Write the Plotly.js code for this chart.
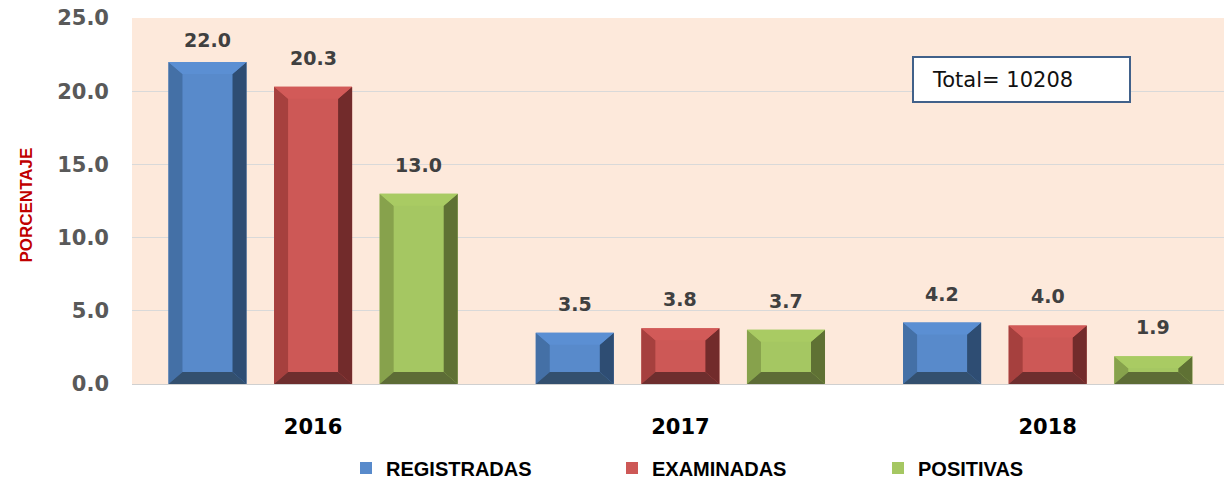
<!DOCTYPE html>
<html><head><meta charset="utf-8">
<script src="https://cdn.plot.ly/plotly-3.0.1.min.js"></script>
<style>body{margin:0;background:#fff}#chart{width:1224px;height:480px}</style>
</head><body><div id="chart"></div>
<script>
// ---- data ----
const years = ['2016', '2017', '2018'];
const seriesNames = ['REGISTRADAS', 'EXAMINADAS', 'POSITIVAS'];
const registradas = [22.0, 3.5, 4.2];
const examinadas = [20.3, 3.8, 4.0];
const positivas = [13.0, 3.7, 1.9];
const yTicks = [0, 5, 10, 15, 20, 25];
const yTickText = ['0.0', '5.0', '10.0', '15.0', '20.0', '25.0'];
const totalText = 'Total= 10208';

// ---- styling ----
const seriesValues = [registradas, examinadas, positivas];
const palette = [
  {front:'#588acb', top:'#5b8fd3', left:'#4470a6', right:'#2e4d73', bottom:'#33506f'},
  {front:'#cd5856', top:'#d25a58', left:'#a6403e', right:'#722b2b', bottom:'#6e2e2e'},
  {front:'#a5c762', top:'#a9cb63', left:'#87a24c', right:'#5f7134', bottom:'#5d6c36'}
];
const offsets = [-0.2875, 0, 0.2875];
const barW = 0.2125;
const xRange = [-0.493, 2.48];
const yRange = [0, 25];
const marginT = 18, plotWpx = 1092, plotHpx = 366;
const pxPerX = plotWpx / (xRange[1] - xRange[0]);
const pxPerY = plotHpx / (yRange[1] - yRange[0]);
const bx = 14 / pxPerX, byFull = 12 / pxPerY;

const traces = [];
const faceTraces = [];
seriesValues.forEach((vals, s) => {
  const xs = years.map((_, i) => i + offsets[s]);
  traces.push({
    type: 'bar', name: seriesNames[s], x: xs, y: vals, width: barW,
    marker: {color: palette[s].front, line: {width: 0}},
    hoverinfo: 'y'
  });
  const faces = {left: {x: [], y: []}, right: {x: [], y: []}, top: {x: [], y: []}, bottom: {x: [], y: []}};
  xs.forEach((xc, i) => {
    const h = vals[i];
    const x0 = xc - barW / 2, x1 = xc + barW / 2;
    const by = Math.min(byFull, h / 2);
    const push = (f, pts) => { pts.forEach(p => { f.x.push(p[0]); f.y.push(p[1]); }); f.x.push(null); f.y.push(null); };
    push(faces.left, [[x0, 0], [x0, h], [x0 + bx, h - by], [x0 + bx, by], [x0, 0]]);
    push(faces.right, [[x1, 0], [x1, h], [x1 - bx, h - by], [x1 - bx, by], [x1, 0]]);
    push(faces.top, [[x0, h], [x1, h], [x1 - bx, h - by], [x0 + bx, h - by], [x0, h]]);
    push(faces.bottom, [[x0, 0], [x1, 0], [x1 - bx, by], [x0 + bx, by], [x0, 0]]);
  });
  ['left', 'right', 'top', 'bottom'].forEach(k => {
    faceTraces.push({
      type: 'scatter', mode: 'lines', x: faces[k].x, y: faces[k].y,
      fill: 'toself', fillcolor: palette[s][k], line: {width: 0, color: palette[s][k]},
      hoverinfo: 'skip', showlegend: false
    });
  });
});

const annotations = [];
seriesValues.forEach((vals, s) => {
  vals.forEach((v, i) => {
    const topPx = marginT + (yRange[1] - v) * pxPerY;
    const shift = Math.max(9, Math.min(16, 9 + (topPx - 62)));
    annotations.push({
      x: i + offsets[s], y: v, xref: 'x', yref: 'y', text: v.toFixed(1),
      showarrow: false, yanchor: 'bottom', yshift: shift,
      font: {family: 'DejaVu Sans', size: 19, color: '#404040', weight: 'bold'}
    });
  });
});
annotations.push({
  xref: 'paper', yref: 'paper', x: -0.108, y: 0.489, text: 'PORCENTAJE', textangle: -90,
  showarrow: false, font: {family: 'Liberation Sans Narrow, Arial Narrow, sans-serif', size: 17, color: '#c00000', weight: 'bold'}
});
annotations.push({
  xref: 'paper', yref: 'paper', x: (930 - 132) / plotWpx, y: (384 - 80) / plotHpx, xanchor: 'left', yanchor: 'middle',
  text: totalText, showarrow: false, font: {family: 'DejaVu Sans', size: 21, color: '#111111'}
});

const layout = {
  width: 1224, height: 480,
  margin: {l: 132, r: 0, t: marginT, b: 96},
  paper_bgcolor: '#ffffff', plot_bgcolor: '#fde9db',
  showlegend: true,
  barmode: 'overlay',
  xaxis: {
    range: xRange, tickvals: [0, 1, 2], ticktext: years, showgrid: false, zeroline: false,
    showline: true, linecolor: '#d0d0d0', linewidth: 1, ticks: '', ticklabelstandoff: 24,
    tickfont: {family: 'DejaVu Sans', size: 21, color: '#000000', weight: 'bold'}, fixedrange: true
  },
  yaxis: {
    range: yRange, tickvals: yTicks, ticktext: yTickText, showgrid: true, gridcolor: '#d9d9d9', gridwidth: 1,
    zeroline: false, ticks: '', ticklabelstandoff: 22,
    tickfont: {family: 'DejaVu Sans', size: 21, color: '#595959', weight: 'bold'}, fixedrange: true
  },
  legend: {
    orientation: 'h', xref: 'container', yref: 'container', x: 346 / 1224, y: 12 / 480,
    xanchor: 'left', yanchor: 'middle', entrywidth: 221, entrywidthmode: 'pixels',
    font: {family: 'Liberation Sans, Arial, sans-serif', size: 20, color: '#000000', weight: 'bold'},
    bgcolor: 'rgba(0,0,0,0)', traceorder: 'normal'
  },
  shapes: [{
    type: 'rect', xref: 'paper', yref: 'paper',
    x0: (913 - 132) / plotWpx, x1: (1130 - 132) / plotWpx,
    y0: (384 - 102) / plotHpx, y1: (384 - 57) / plotHpx,
    fillcolor: '#ffffff', line: {color: '#41618a', width: 2}
  }],
  annotations: annotations
};

Plotly.newPlot('chart', traces.concat(faceTraces), layout, {displayModeBar: false, staticPlot: true});
</script></body></html>
